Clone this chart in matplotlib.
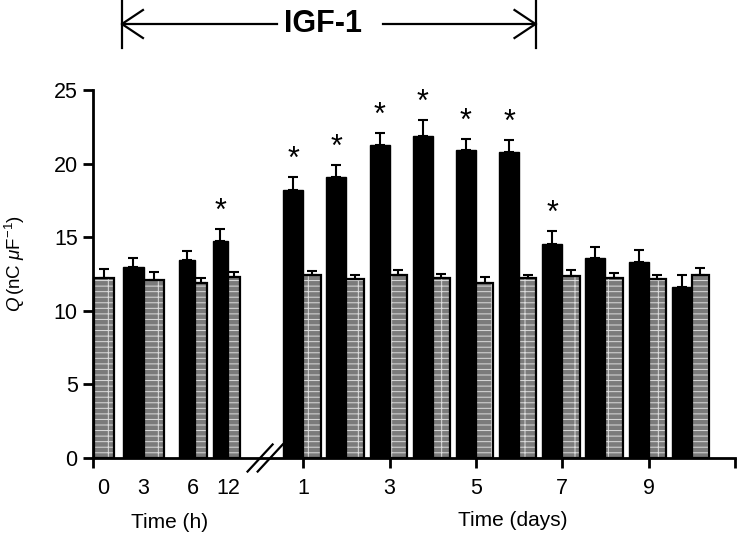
import numpy as np
import matplotlib
matplotlib.use('Agg')
import matplotlib.pyplot as plt
import matplotlib.transforms as mtransforms

plt.rcParams['font.family'] = ['Liberation Sans', 'DejaVu Sans']
plt.rcParams['mathtext.fontset'] = 'custom'
plt.rcParams['mathtext.rm'] = 'Liberation Sans'
plt.rcParams['mathtext.it'] = 'Liberation Sans:italic'
plt.rcParams['hatch.linewidth'] = 0.7

# ---- Data ----
hour_labels = ['0', '3', '6', '12']
igf_hours = [np.nan, 12.97, 13.46, 14.77]
igf_hours_err = [np.nan, 0.61, 0.61, 0.78]
ctrl_hours = [12.22, 12.06, 11.92, 12.33]
ctrl_hours_err = [0.61, 0.57, 0.34, 0.32]
sig_hours = [False, False, False, True]

days = [1, 2, 3, 4, 5, 6, 7, 8, 9, 10]
day_ticks = [1, 3, 5, 7, 9]
igf_days = [18.21, 19.08, 21.27, 21.88, 20.93, 20.79, 14.53, 13.62, 13.33, 11.65]
igf_days_err = [0.87, 0.83, 0.83, 1.06, 0.77, 0.82, 0.86, 0.73, 0.81, 0.77]
ctrl_days = [12.44, 12.17, 12.44, 12.26, 11.92, 12.20, 12.35, 12.26, 12.19, 12.42]
ctrl_days_err = [0.28, 0.23, 0.34, 0.23, 0.37, 0.24, 0.41, 0.34, 0.21, 0.50]
sig_days = [True] * 7 + [False] * 3

# ---- Layout (x in "day" units; hour group squeezed left of the break) ----
hour_edge = np.array([-3.85, -2.689, -1.517, -0.752])   # black/grey boundary
hour_wb = np.array([0.0, 0.487, 0.35, 0.35])
hour_wg = np.array([0.465, 0.464, 0.28, 0.28])
hour_lab_pos = [-3.64, -2.71, -1.55, -0.74]
day_edge = np.array(days, dtype=float)
day_wb = 0.465
day_wg = 0.40
xmin, xmax = -3.87, 11.0

fig = plt.figure(figsize=(7.4, 5.38), dpi=100)
ax = fig.add_axes([93 / 740, 80 / 538, (735 - 93) / 740, (458 - 90) / 538])

grey = '#7b7b7b'
ekw = dict(fmt='none', ecolor='black', elinewidth=1.5, capsize=3.5, capthick=1.5)


def draw_group(edge, wb, wg, igf, igf_err, ctrl, ctrl_err, sig):
    edge = np.asarray(edge)
    wb = np.broadcast_to(wb, edge.shape)
    wg = np.broadcast_to(wg, edge.shape)
    igf = np.asarray(igf, dtype=float)
    ctrl = np.asarray(ctrl, dtype=float)
    ok = ~np.isnan(igf)
    xb = edge[ok] - wb[ok] / 2
    xg = edge + wg / 2
    # IGF-1 treated (black)
    ax.bar(xb, igf[ok], width=wb[ok], color='black', edgecolor='black', linewidth=1, zorder=2)
    ax.errorbar(xb, igf[ok], yerr=[np.zeros(ok.sum()), np.asarray(igf_err)[ok]], zorder=3, **ekw)
    # control (speckled grey)
    ax.bar(xg, ctrl, width=wg, color=grey, edgecolor='#dcdcdc', linewidth=0, hatch='---|', zorder=2)
    ax.bar(xg, ctrl, width=wg, fill=False, edgecolor='black', linewidth=1.6, zorder=3)
    ax.errorbar(xg, ctrl, yerr=[np.zeros(len(ctrl)), ctrl_err], zorder=3, **ekw)
    # significance stars
    for x, v, e, s in zip(xb, igf[ok], np.asarray(igf_err)[ok], np.asarray(sig)[ok]):
        if s:
            ax.annotate('*', xy=(x, v + e + 1.8), xytext=(0, -12.5), textcoords='offset points',
                        ha='center', va='baseline', fontsize=22, zorder=4)


draw_group(hour_edge, hour_wb, hour_wg, igf_hours, igf_hours_err,
           ctrl_hours, ctrl_hours_err, sig_hours)
draw_group(day_edge, day_wb, day_wg, igf_days, igf_days_err,
           ctrl_days, ctrl_days_err, sig_days)

# ---- Axes ----
ax.set_xlim(xmin, xmax)
ax.set_ylim(0, 25)
ax.spines['top'].set_visible(False)
ax.spines['right'].set_visible(False)
for s in ('left', 'bottom'):
    ax.spines[s].set_linewidth(2)

ax.set_yticks([0, 5, 10, 15, 20, 25])
ax.tick_params(axis='y', direction='out', length=7, width=2, labelsize=15.5, pad=4)

ax.set_xticks([xmin] + day_ticks + [11])
ax.set_xticklabels([''] + [str(d) for d in day_ticks] + [''])
ax.set_xticks(hour_lab_pos, minor=True)
ax.set_xticklabels(hour_labels, minor=True)
ax.tick_params(axis='x', which='major', direction='out', length=7.5, width=2, labelsize=15.5, pad=7)
ax.tick_params(axis='x', which='minor', length=0, labelsize=15.5, pad=14.5)

# axis break marks
for xc in (0.0, 0.234):
    ax.plot([xc - 0.29, xc + 0.29], [-0.92, 0.92], color='black', lw=1.6,
            clip_on=False, zorder=5)

fig.text(170 / 740, 1 - 523 / 538, 'Time (h)', ha='center', va='center', fontsize=15)
fig.text(513 / 740, 1 - 521 / 538, 'Time (days)', ha='center', va='center', fontsize=15)
fig.text(15 / 740, 1 - 263 / 538, r'$Q\,$(nC $\mu$F$^{-1}$)', rotation=90,
         ha='center', va='center', fontsize=13.5)

# ---- IGF-1 treatment bracket ----
blend = mtransforms.blended_transform_factory(ax.transData, fig.transFigure)
x0, x1 = -3.2, 6.38
yl = 1 - 24 / 538
dy = 14 / 538
dx = 0.487
kw = dict(color='black', lw=1.6, transform=blend, clip_on=False)
for xv in (x0, x1):
    ax.plot([xv, xv], [1.0, 1 - 48 / 538], **kw)
ax.plot([x0, 0.397], [yl, yl], **kw)
ax.plot([2.856, x1], [yl, yl], **kw)
ax.plot([x0 + dx, x0, x0 + dx], [yl + dy, yl, yl - dy], **kw)
ax.plot([x1 - dx, x1, x1 - dx], [yl + dy, yl, yl - dy], **kw)
ax.text(1.464, yl, 'IGF-1', transform=blend, ha='center', va='center',
        fontsize=22, fontweight='bold')

fig.savefig('out.png', dpi=100)
